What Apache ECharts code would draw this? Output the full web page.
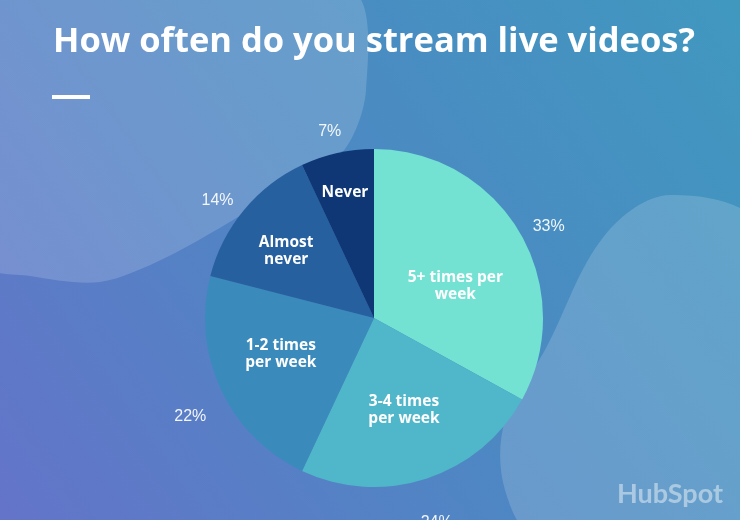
<!DOCTYPE html>
<html>
<head>
<meta charset="utf-8">
<script src="https://cdn.jsdelivr.net/npm/echarts@6/dist/echarts.min.js"></script>
<style>html,body{margin:0;padding:0;}#c{width:740px;height:520px;}</style>
</head>
<body>
<div id="c"></div>
<script>
const categories = ['5+ times per\nweek', '3-4 times\nper week', '1-2 times\nper week', 'Almost\nnever', 'Never'];
const values = [33, 24, 22, 14, 7];
const sliceColors = ['#73e2d3', '#50b6c9', '#3a8bbb', '#26609e', '#0f3675'];

const chart = echarts.init(document.getElementById('c'));
const center = [374, 318];
const data = categories.map((c, i) => ({ name: c, value: values[i], itemStyle: { color: sliceColors[i] } }));
const transparentData = categories.map((c, i) => ({ name: c, value: values[i], itemStyle: { color: 'rgba(0,0,0,0)' } }));

const series = [{
  type: 'pie', center: center, radius: [0, 169], startAngle: 90, clockwise: true,
  silent: true, label: { show: false }, labelLine: { show: false }, data: data
}, {
  type: 'pie', center: [374, 330], radius: [199, 201], startAngle: 90, silent: true,
  avoidLabelOverlap: false, labelLine: { show: false },
  label: { show: true, position: 'inside', formatter: '{c}%', color: 'rgba(255,255,255,0.92)', fontSize: 16, fontFamily: 'Liberation Sans' },
  data: transparentData
}];
const innerR = [88, 94, 100, 111, 130];
const innerDy = [14, 0, -8, 6, 4];
innerR.forEach((r, idx) => {
  series.push({
    type: 'pie', center: center, radius: [r - 1, r + 1], startAngle: 90, silent: true,
    avoidLabelOverlap: false, labelLine: { show: false },
    labelLayout: () => ({ dx: idx === 0 ? 3 : 0, dy: innerDy[idx] }),
    label: {
      show: true, position: 'inside', color: '#ffffff', fontSize: 15.5, fontWeight: 'bold',
      fontFamily: 'Open Sans', lineHeight: 17,
      formatter: p => p.dataIndex === idx ? p.name : ''
    },
    data: transparentData
  });
});

chart.setOption({
  backgroundColor: {
    type: 'linear', x: 1, y: 0, x2: 0, y2: 1,
    colorStops: [
      { offset: 0, color: '#4098bf' },
      { offset: 0.5, color: '#4d88c3' },
      { offset: 1, color: '#6474c9' }
    ]
  },
  title: {
    text: 'How often do you stream live videos?', left: 48, top: 20,
    textStyle: { color: '#ffffff', fontSize: 34.5, fontWeight: 'bold', fontFamily: 'Open Sans' }
  },
  graphic: [
    { type: 'polygon', z: -1, silent: true,
      shape: { smooth: 0.3, points: [[-20, -20], [350, -10], [366, 90], [340, 155], [250, 210], [165, 258], [100, 282], [30, 276], [-20, 262]] },
      style: { fill: 'rgba(255,255,255,0.16)' } },
    { type: 'polygon', z: -1, silent: true,
      shape: { smooth: 0.35, points: [[760, 230], [670, 195], [605, 235], [545, 350], [505, 420], [505, 490], [540, 540], [760, 540]] },
      style: { fill: 'rgba(255,255,255,0.16)' } },
    { type: 'rect', left: 52, top: 95, shape: { width: 38, height: 4 }, style: { fill: '#ffffff' } },
    { type: 'text', left: 617, top: 481, style: { text: 'HubSpot', fill: 'rgba(255,255,255,0.45)', fontSize: 27, fontWeight: 'bold', fontFamily: 'Lato' } }
  ],
  series: series
});
</script>
</body>
</html>
